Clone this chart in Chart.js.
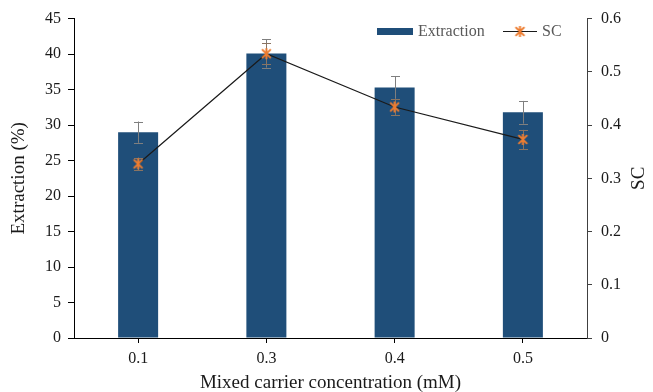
<!DOCTYPE html>
<html>
<head>
<meta charset="utf-8">
<script src="https://cdn.jsdelivr.net/npm/chart.js@4.4.1/dist/chart.umd.min.js"></script>
<style>
  html, body { margin: 0; padding: 0; background: #fff; }
  #wrap { width: 653px; height: 392px; }
</style>
</head>
<body>
<div id="wrap"><canvas id="c" width="653" height="392"></canvas></div>
<script>
// Mixed carrier concentration (mM)
const categories = ['0.1', '0.3', '0.4', '0.5'];
// Extraction (%) with standard deviation
const extraction = [29.0, 40.1, 35.3, 31.8];
const extractionErr = [1.5, 2.0, 1.6, 1.6];
// Separation coefficient SC with standard deviation
const sc = [0.327, 0.534, 0.434, 0.373];
const scErr = [0.012, 0.02, 0.015, 0.018];
// Axis tick values
const leftTicks = [0, 5, 10, 15, 20, 25, 30, 35, 40, 45];
const rightTicks = [0, 0.1, 0.2, 0.3, 0.4, 0.5, 0.6];

const SERIF = '"Liberation Serif", "Times New Roman", serif';
const BAR_COLOR = '#1F4E79';
const ORANGE = '#ED7D31';

// Asterisk marker: an X crossed by a vertical stroke
function makeStar(size, color) {
  const c = document.createElement('canvas');
  c.width = size; c.height = size;
  const g = c.getContext('2d');
  const m = size / 2, r = size / 2 - 1;
  g.strokeStyle = color; g.lineWidth = 2; g.lineCap = 'butt';
  g.beginPath();
  g.moveTo(m - r * 0.8, m - r * 0.8); g.lineTo(m + r * 0.8, m + r * 0.8);
  g.moveTo(m + r * 0.8, m - r * 0.8); g.lineTo(m - r * 0.8, m + r * 0.8);
  g.moveTo(m, m - r); g.lineTo(m, m + r);
  g.stroke();
  return c;
}
const starMarker = makeStar(13, ORANGE);

function drawErrors(chart, dsIndex, scaleId, values, errs, color) {
  const ctx = chart.ctx;
  const meta = chart.getDatasetMeta(dsIndex);
  const ys = chart.scales[scaleId];
  ctx.save();
  ctx.strokeStyle = color;
  ctx.lineWidth = 1;
  meta.data.forEach((el, i) => {
    const x = Math.round(el.x) + 0.5;
    const yt = ys.getPixelForValue(values[i] + errs[i]);
    const yb = ys.getPixelForValue(values[i] - errs[i]);
    ctx.beginPath();
    ctx.moveTo(x, yt); ctx.lineTo(x, yb);
    ctx.moveTo(x - 4.5, Math.round(yt) + 0.5); ctx.lineTo(x + 4.5, Math.round(yt) + 0.5);
    ctx.moveTo(x - 4.5, Math.round(yb) + 0.5); ctx.lineTo(x + 4.5, Math.round(yb) + 0.5);
    ctx.stroke();
  });
  ctx.restore();
}

const errorBars = {
  id: 'errorBars',
  afterDatasetDraw(chart, args) {
    if (args.index !== 0) return;
    drawErrors(chart, 0, 'y', extraction, extractionErr, '#7f7f7f');
    drawErrors(chart, 1, 'y1', sc, scErr, '#8a7462');
  }
};

// Axis titles and the legend
const decorations = {
  id: 'decorations',
  afterDraw(chart) {
    const ctx = chart.ctx;
    const area = chart.chartArea;
    ctx.save();
    ctx.fillStyle = '#1a1a1a';
    ctx.font = '19px ' + SERIF;
    ctx.textAlign = 'center';
    ctx.textBaseline = 'middle';
    const midY = (area.top + area.bottom) / 2;
    ctx.save();
    ctx.translate(19, midY); ctx.rotate(-Math.PI / 2);
    ctx.fillText('Extraction (%)', 0, 0);
    ctx.restore();
    ctx.save();
    ctx.translate(639, midY); ctx.rotate(-Math.PI / 2);
    ctx.fillText('SC', 0, 0);
    ctx.restore();
    ctx.fillText('Mixed carrier concentration (mM)', (area.left + area.right) / 2, 383);

    // legend
    ctx.font = '16px ' + SERIF;
    ctx.textAlign = 'left';
    ctx.fillStyle = BAR_COLOR;
    ctx.fillRect(377, 28, 36, 7);
    ctx.fillStyle = '#595959';
    ctx.fillText('Extraction', 418, 32);
    ctx.strokeStyle = '#1a1a1a';
    ctx.lineWidth = 1.2;
    ctx.beginPath();
    ctx.moveTo(503, 31.5); ctx.lineTo(537, 31.5);
    ctx.stroke();
    ctx.drawImage(starMarker, 520 - 6.5, 31.5 - 6.5);
    ctx.fillText('SC', 542, 32);
    ctx.restore();
  }
};

new Chart(document.getElementById('c'), {
  type: 'bar',
  data: {
    labels: categories,
    datasets: [
      {
        label: 'Extraction',
        data: extraction,
        yAxisID: 'y',
        backgroundColor: BAR_COLOR,
        borderWidth: 0,
        barPercentage: 0.312,
        categoryPercentage: 1.0,
        order: 1
      },
      {
        type: 'line',
        label: 'SC',
        data: sc,
        yAxisID: 'y1',
        borderColor: '#1a1a1a',
        borderWidth: 1.2,
        tension: 0,
        pointStyle: starMarker,
        pointRadius: 6,
        pointHoverRadius: 6,
        order: 0
      }
    ]
  },
  options: {
    responsive: false,
    animation: false,
    events: [],
    layout: { padding: { top: 17, left: 0, right: 0, bottom: 0 } },
    plugins: {
      legend: { display: false },
      tooltip: { enabled: false }
    },
    scales: {
      x: {
        offset: true,
        afterFit(s) { s.height = 54; },
        border: { display: true, color: '#000', width: 1 },
        grid: { display: true, drawOnChartArea: false, drawTicks: true, tickLength: 5, offset: false, color: '#000' },
        ticks: { color: '#1a1a1a', font: { family: SERIF, size: 16 }, padding: 6 }
      },
      y: {
        position: 'left',
        min: 0, max: 45,
        afterFit(s) { s.width = 74; },
        afterBuildTicks(s) { s.ticks = leftTicks.map(v => ({ value: v })); },
        border: { display: true, color: '#000', width: 1 },
        grid: { display: true, drawOnChartArea: false, drawTicks: true, tickLength: 6, color: '#000' },
        ticks: { color: '#1a1a1a', font: { family: SERIF, size: 16 }, padding: 7 }
      },
      y1: {
        position: 'right',
        min: 0, max: 0.6,
        afterFit(s) { s.width = 66; },
        afterBuildTicks(s) { s.ticks = rightTicks.map(v => ({ value: v })); },
        border: { display: true, color: '#404040', width: 1 },
        grid: { display: true, drawOnChartArea: false, drawTicks: true, tickLength: 5, color: '#404040' },
        ticks: {
          color: '#1a1a1a', font: { family: SERIF, size: 16 }, padding: 9,
          callback: v => String(Math.round(v * 10) / 10)
        }
      }
    }
  },
  plugins: [errorBars, decorations]
});
</script>
</body>
</html>
